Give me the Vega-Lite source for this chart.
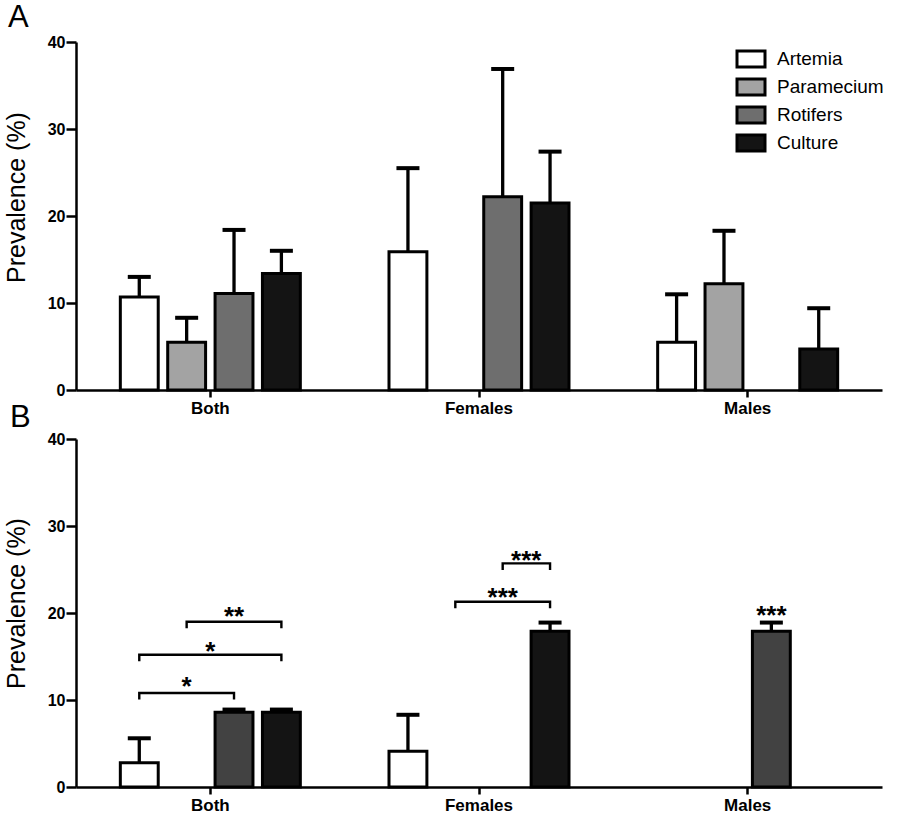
{
  "$schema": "https://vega.github.io/schema/vega-lite/v6.json",
  "background": "white",
  "padding": {"left": 4, "top": 2, "right": 5, "bottom": 5},
  "config": {
    "view": {"stroke": null},
    "font": "Liberation Sans",
    "axis": {"domainColor": "black", "domainWidth": 2.5, "tickColor": "black", "tickWidth": 2.5, "labelColor": "black", "labelFont": "Liberation Sans", "labelFontWeight": "bold", "grid": false, "titleFont": "Liberation Sans", "titleFontWeight": "normal", "titleColor": "black"},
    "title": {"fontSize": 31, "fontWeight": "normal", "anchor": "start", "color": "black", "frame": "group", "font": "Liberation Sans", "baseline": "alphabetic"}
  },
  "datasets": {
    "a": [
      {"group": "Both", "series": "Artemia", "value": 10.7, "upper": 13.0},
      {"group": "Both", "series": "Paramecium", "value": 5.5, "upper": 8.3},
      {"group": "Both", "series": "Rotifers", "value": 11.1, "upper": 18.4},
      {"group": "Both", "series": "Culture", "value": 13.4, "upper": 16.0},
      {"group": "Females", "series": "Artemia", "value": 15.9, "upper": 25.5},
      {"group": "Females", "series": "Rotifers", "value": 22.2, "upper": 36.9},
      {"group": "Females", "series": "Culture", "value": 21.5, "upper": 27.4},
      {"group": "Males", "series": "Artemia", "value": 5.5, "upper": 11.0},
      {"group": "Males", "series": "Paramecium", "value": 12.2, "upper": 18.3},
      {"group": "Males", "series": "Culture", "value": 4.7, "upper": 9.4}
    ],
    "b": [
      {"group": "Both", "series": "Artemia", "value": 2.8, "upper": 5.6},
      {"group": "Both", "series": "Rotifers", "value": 8.6, "upper": 8.9},
      {"group": "Both", "series": "Culture", "value": 8.6, "upper": 8.9},
      {"group": "Females", "series": "Artemia", "value": 4.1, "upper": 8.3},
      {"group": "Females", "series": "Culture", "value": 17.9, "upper": 18.9},
      {"group": "Males", "series": "Rotifers", "value": 17.9, "upper": 18.9}
    ],
    "brackets": [
      {"id": 1, "group": "Both", "series": "Artemia", "y": 10.05, "ord": 1},
      {"id": 1, "group": "Both", "series": "Artemia", "y": 10.8, "ord": 2},
      {"id": 1, "group": "Both", "series": "Rotifers", "y": 10.8, "ord": 3},
      {"id": 1, "group": "Both", "series": "Rotifers", "y": 10.05, "ord": 4},
      {"id": 2, "group": "Both", "series": "Artemia", "y": 14.45, "ord": 1},
      {"id": 2, "group": "Both", "series": "Artemia", "y": 15.2, "ord": 2},
      {"id": 2, "group": "Both", "series": "Culture", "y": 15.2, "ord": 3},
      {"id": 2, "group": "Both", "series": "Culture", "y": 14.45, "ord": 4},
      {"id": 3, "group": "Both", "series": "Paramecium", "y": 18.25, "ord": 1},
      {"id": 3, "group": "Both", "series": "Paramecium", "y": 19.0, "ord": 2},
      {"id": 3, "group": "Both", "series": "Culture", "y": 19.0, "ord": 3},
      {"id": 3, "group": "Both", "series": "Culture", "y": 18.25, "ord": 4},
      {"id": 4, "group": "Females", "series": "Paramecium", "y": 20.55, "ord": 1},
      {"id": 4, "group": "Females", "series": "Paramecium", "y": 21.3, "ord": 2},
      {"id": 4, "group": "Females", "series": "Culture", "y": 21.3, "ord": 3},
      {"id": 4, "group": "Females", "series": "Culture", "y": 20.55, "ord": 4},
      {"id": 5, "group": "Females", "series": "Rotifers", "y": 24.95, "ord": 1},
      {"id": 5, "group": "Females", "series": "Rotifers", "y": 25.7, "ord": 2},
      {"id": 5, "group": "Females", "series": "Culture", "y": 25.7, "ord": 3},
      {"id": 5, "group": "Females", "series": "Culture", "y": 24.95, "ord": 4}
    ],
    "stars": [
      {"group": "Both", "series": "Paramecium", "y": 10.6, "label": "*", "place": "on"},
      {"group": "Both", "series": "Paramecium", "y": 14.6, "label": "*", "place": "mid"},
      {"group": "Both", "series": "Rotifers", "y": 18.6, "label": "**", "place": "on"},
      {"group": "Females", "series": "Rotifers", "y": 20.8, "label": "***", "place": "on"},
      {"group": "Females", "series": "Rotifers", "y": 25.1, "label": "***", "place": "mid"},
      {"group": "Males", "series": "Rotifers", "y": 18.7, "label": "***", "place": "on"}
    ]
  },
  "bounds": "flush",
  "spacing": 49,
  "resolve": {"scale": {"color": "independent"}},
  "vconcat": [
    {
      "title": {"text": "A", "dx": -68, "offset": 0},
      "width": 806,
      "height": 348,
      "data": {"name": "a"},
      "encoding": {
        "x": {"field": "group", "type": "nominal", "scale": {"domain": ["Both", "Females", "Males"], "paddingInner": 0.33, "paddingOuter": 0.165}, "axis": {"title": null, "labelAngle": 0, "labelFontSize": 17, "tickSize": 7, "labelPadding": 3}},
        "xOffset": {"field": "series", "type": "nominal", "scale": {"domain": ["Artemia", "Paramecium", "Rotifers", "Culture"], "paddingInner": 0.2, "paddingOuter": 0}}
      },
      "layer": [
        {
          "mark": {"type": "rule", "strokeWidth": 3.3, "color": "black"},
          "encoding": {
            "y": {"field": "value", "type": "quantitative", "title": "Prevalence (%)", "scale": {"domain": [0, 40]}},
            "y2": {"field": "upper"}
          }
        },
        {
          "mark": {"type": "bar", "stroke": "black", "strokeWidth": 3},
          "encoding": {
            "y": {"field": "value", "type": "quantitative", "title": "Prevalence (%)", "scale": {"domain": [0, 40]}, "axis": {"values": [0, 10, 20, 30, 40], "labelFontSize": 16, "tickSize": 10, "labelPadding": 1, "titleFontSize": 25, "titleX": -52, "titleY": 155, "titleBaseline": "alphabetic"}},
            "color": {"field": "series", "type": "nominal", "scale": {"domain": ["Artemia", "Paramecium", "Rotifers", "Culture"], "range": ["#ffffff", "#a3a3a3", "#6e6e6e", "#141414"]}, "legend": {"title": null, "orient": "none", "legendX": 661, "legendY": 3, "symbolType": "M-1.12,-0.64L1.12,-0.64L1.12,0.64L-1.12,0.64Z", "symbolSize": 625, "symbolStrokeColor": "black", "symbolStrokeWidth": 3, "symbolOpacity": 1, "labelFontSize": 19, "labelFont": "Liberation Sans", "labelColor": "black", "rowPadding": 0, "labelOffset": 12, "padding": 0}}
          }
        },
        {
          "mark": {"type": "tick", "thickness": 4, "size": 23, "color": "black", "opacity": 1},
          "encoding": {
            "y": {"field": "upper", "type": "quantitative", "title": "Prevalence (%)", "scale": {"domain": [0, 40]}}
          }
        }
      ]
    },
    {
      "title": {"text": "B", "dx": -66, "offset": -3},
      "width": 806,
      "height": 348,
      "data": {"name": "b"},
      "encoding": {
        "x": {"field": "group", "type": "nominal", "scale": {"domain": ["Both", "Females", "Males"], "paddingInner": 0.33, "paddingOuter": 0.165}, "axis": {"title": null, "labelAngle": 0, "labelFontSize": 17, "tickSize": 7, "labelPadding": 3}},
        "xOffset": {"field": "series", "type": "nominal", "scale": {"domain": ["Artemia", "Paramecium", "Rotifers", "Culture"], "paddingInner": 0.2, "paddingOuter": 0}}
      },
      "layer": [
        {
          "mark": {"type": "rule", "strokeWidth": 3.3, "color": "black"},
          "encoding": {
            "y": {"field": "value", "type": "quantitative", "title": "Prevalence (%)", "scale": {"domain": [0, 40]}},
            "y2": {"field": "upper"}
          }
        },
        {
          "mark": {"type": "bar", "stroke": "black", "strokeWidth": 3},
          "encoding": {
            "y": {"field": "value", "type": "quantitative", "title": "Prevalence (%)", "scale": {"domain": [0, 40]}, "axis": {"values": [0, 10, 20, 30, 40], "labelFontSize": 16, "tickSize": 10, "labelPadding": 1, "titleFontSize": 25, "titleX": -52, "titleY": 164, "titleBaseline": "alphabetic"}},
            "color": {"field": "series", "type": "nominal", "scale": {"domain": ["Artemia", "Paramecium", "Rotifers", "Culture"], "range": ["#ffffff", "#a3a3a3", "#424242", "#141414"]}, "legend": null}
          }
        },
        {
          "mark": {"type": "tick", "thickness": 4, "size": 23, "color": "black", "opacity": 1},
          "encoding": {
            "y": {"field": "upper", "type": "quantitative", "title": "Prevalence (%)", "scale": {"domain": [0, 40]}}
          }
        },
        {
          "data": {"name": "brackets"},
          "mark": {"type": "line", "color": "black", "strokeWidth": 2.4},
          "encoding": {
            "y": {"field": "y", "type": "quantitative", "title": "Prevalence (%)", "scale": {"domain": [0, 40]}},
            "detail": {"field": "id", "type": "nominal"},
            "order": {"field": "ord", "type": "quantitative"}
          }
        },
        {
          "data": {"name": "stars"},
          "transform": [{"filter": "datum.place === 'on'"}],
          "mark": {"type": "text", "fontSize": 26, "fontWeight": "bold", "baseline": "alphabetic", "align": "center", "color": "black", "font": "Liberation Sans"},
          "encoding": {
            "y": {"field": "y", "type": "quantitative", "title": "Prevalence (%)", "scale": {"domain": [0, 40]}},
            "text": {"field": "label"}
          }
        },
        {
          "data": {"name": "stars"},
          "transform": [{"filter": "datum.place === 'mid'"}],
          "mark": {"type": "text", "fontSize": 26, "fontWeight": "bold", "baseline": "alphabetic", "align": "center", "color": "black", "font": "Liberation Sans", "dx": 23.6},
          "encoding": {
            "y": {"field": "y", "type": "quantitative", "title": "Prevalence (%)", "scale": {"domain": [0, 40]}},
            "text": {"field": "label"}
          }
        }
      ]
    }
  ]
}
